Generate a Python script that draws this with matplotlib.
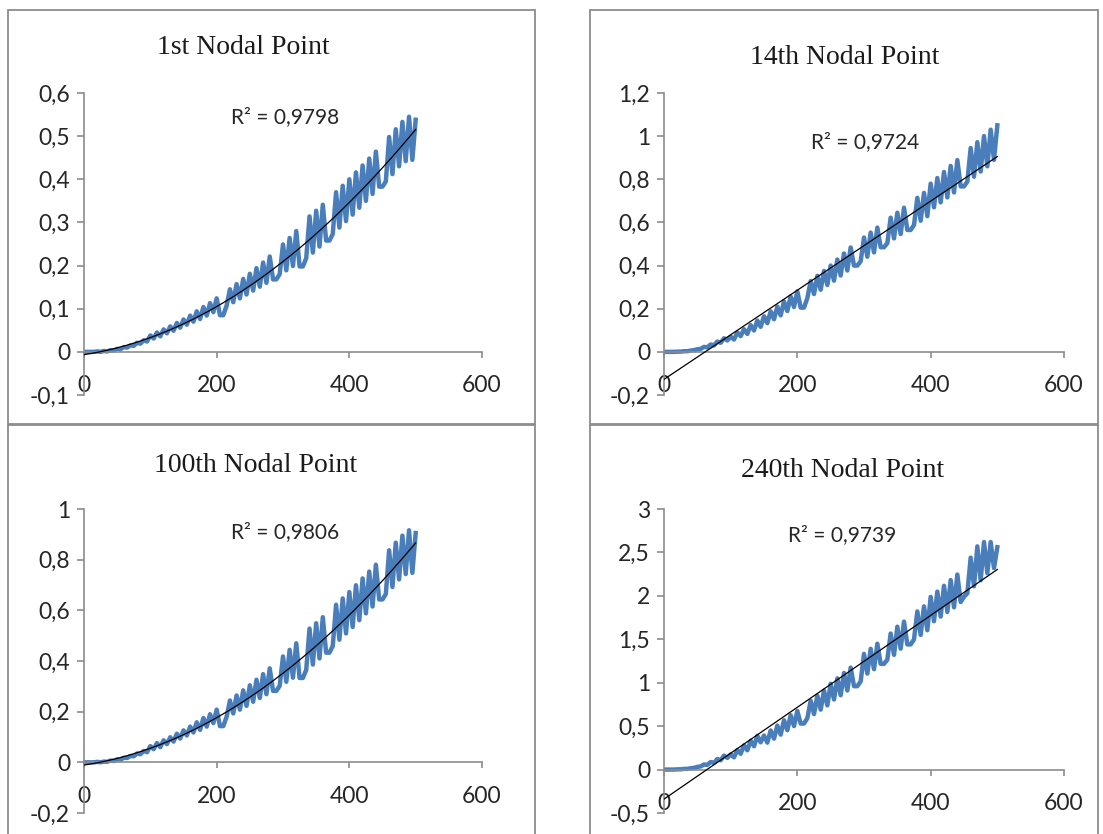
import numpy as np
import matplotlib
matplotlib.use("Agg")
import matplotlib.pyplot as plt
from matplotlib.patches import Rectangle
from matplotlib.ticker import FuncFormatter, MultipleLocator

# time steps shared by all four nodal points
time = np.arange(0, 505, 5)

node_1 = [
    0.000, 0.000, 0.000, 0.000, 0.001, 0.000, 0.002, 0.001, 0.004, 0.003,
    0.007, 0.006, 0.011, 0.010, 0.015, 0.014, 0.021, 0.019, 0.027, 0.024,
    0.038, 0.031, 0.045, 0.036, 0.052, 0.043, 0.059, 0.049, 0.067, 0.056,
    0.075, 0.063, 0.084, 0.070, 0.094, 0.076, 0.104, 0.084, 0.113, 0.092,
    0.124, 0.085, 0.085, 0.107, 0.145, 0.115, 0.157, 0.124, 0.169, 0.133,
    0.181, 0.142, 0.194, 0.151, 0.207, 0.160, 0.221, 0.168, 0.168, 0.180,
    0.249, 0.189, 0.264, 0.199, 0.280, 0.198, 0.198, 0.217, 0.314, 0.230,
    0.327, 0.244, 0.341, 0.258, 0.258, 0.273, 0.370, 0.288, 0.385, 0.303,
    0.400, 0.318, 0.416, 0.334, 0.432, 0.350, 0.448, 0.366, 0.464, 0.383,
    0.383, 0.395, 0.498, 0.412, 0.516, 0.430, 0.533, 0.442, 0.545, 0.445,
    0.538,
]

node_14 = [
    0.000, 0.000, 0.000, 0.000, 0.001, 0.001, 0.003, 0.003, 0.006, 0.008,
    0.012, 0.014, 0.023, 0.021, 0.034, 0.030, 0.048, 0.042, 0.063, 0.053,
    0.070, 0.057, 0.090, 0.073, 0.105, 0.083, 0.124, 0.099, 0.145, 0.116,
    0.165, 0.133, 0.188, 0.151, 0.210, 0.169, 0.234, 0.189, 0.257, 0.208,
    0.280, 0.205, 0.205, 0.249, 0.328, 0.268, 0.352, 0.288, 0.375, 0.310,
    0.400, 0.330, 0.428, 0.354, 0.456, 0.377, 0.484, 0.400, 0.400, 0.420,
    0.530, 0.441, 0.553, 0.461, 0.576, 0.485, 0.485, 0.504, 0.622, 0.526,
    0.645, 0.546, 0.668, 0.565, 0.565, 0.588, 0.714, 0.608, 0.737, 0.629,
    0.780, 0.670, 0.806, 0.693, 0.834, 0.716, 0.862, 0.739, 0.889, 0.767,
    0.767, 0.789, 0.945, 0.812, 0.972, 0.836, 1.000, 0.860, 1.030, 0.890,
    1.050,
]

node_100 = [
    0.000, 0.000, 0.000, 0.000, 0.002, 0.000, 0.003, 0.002, 0.007, 0.005,
    0.012, 0.010, 0.018, 0.017, 0.025, 0.024, 0.035, 0.032, 0.045, 0.040,
    0.064, 0.052, 0.076, 0.060, 0.087, 0.072, 0.099, 0.082, 0.113, 0.094,
    0.126, 0.106, 0.141, 0.118, 0.158, 0.128, 0.175, 0.141, 0.190, 0.155,
    0.208, 0.143, 0.143, 0.180, 0.244, 0.193, 0.264, 0.208, 0.284, 0.223,
    0.304, 0.239, 0.326, 0.254, 0.348, 0.269, 0.371, 0.282, 0.282, 0.302,
    0.418, 0.318, 0.444, 0.334, 0.470, 0.333, 0.333, 0.365, 0.528, 0.386,
    0.549, 0.410, 0.573, 0.433, 0.433, 0.459, 0.622, 0.484, 0.647, 0.509,
    0.672, 0.534, 0.699, 0.561, 0.726, 0.588, 0.753, 0.615, 0.780, 0.643,
    0.643, 0.664, 0.837, 0.692, 0.867, 0.722, 0.895, 0.743, 0.916, 0.748,
    0.905,
]

node_240 = [
    0.000, 0.000, 0.000, 0.000, 0.003, 0.003, 0.008, 0.008, 0.015, 0.020,
    0.031, 0.036, 0.059, 0.054, 0.087, 0.077, 0.122, 0.107, 0.161, 0.135,
    0.174, 0.141, 0.225, 0.182, 0.279, 0.222, 0.332, 0.268, 0.388, 0.314,
    0.392, 0.310, 0.450, 0.356, 0.507, 0.402, 0.568, 0.453, 0.626, 0.501,
    0.675, 0.530, 0.530, 0.591, 0.792, 0.639, 0.851, 0.690, 0.910, 0.739,
    0.988, 0.807, 1.050, 0.856, 1.112, 0.910, 1.174, 0.960, 0.960, 1.015,
    1.332, 1.105, 1.390, 1.156, 1.449, 1.217, 1.217, 1.265, 1.566, 1.321,
    1.645, 1.392, 1.703, 1.441, 1.441, 1.499, 1.821, 1.550, 1.879, 1.604,
    1.988, 1.708, 2.049, 1.761, 2.116, 1.815, 2.182, 1.868, 2.246, 1.929,
    1.990, 2.030, 2.440, 2.110, 2.570, 2.180, 2.620, 2.260, 2.620, 2.320,
    2.560,
]

titles = ["1st Nodal Point", "14th Nodal Point", "100th Nodal Point", "240th Nodal Point"]
r2_labels = ["R\u00b2 = 0,9798", "R\u00b2 = 0,9724", "R\u00b2 = 0,9806", "R\u00b2 = 0,9739"]
fit_orders = [2, 1, 2, 1]
y_ranges = [(-0.1, 0.6), (-0.2, 1.2), (-0.2, 1.0), (-0.5, 3.0)]
y_steps = [0.1, 0.2, 0.2, 0.5]
series = [node_1, node_14, node_100, node_240]

W, H = 1103, 834
fig = plt.figure(figsize=(W / 100, H / 100), dpi=100)

# pixel layout (left, top, right, bottom) of each panel's axes and frame
axes_px = [(84, 93, 482, 395), (664, 93, 1064, 395),
           (84, 509, 482, 813), (664, 509, 1064, 813)]
frames_px = [(8, 10, 535, 424), (590, 10, 1098, 424),
             (8, 425, 535, 850), (590, 425, 1098, 850)]
title_px = [(243, 47), (845, 57), (256, 465), (843, 470)]
r2_px = [(285, 117), (865, 142), (285, 532), (842, 535)]

comma_fmt = FuncFormatter(lambda v, _: f"{round(v, 6):g}".replace(".", ","))

for i in range(4):
    x0, y0, x1, y1 = frames_px[i]
    fig.patches.append(Rectangle((x0 / W, 1 - y1 / H), (x1 - x0) / W, (y1 - y0) / H,
                                 transform=fig.transFigure, fill=False,
                                 edgecolor="#8c8c8c", lw=1.3, zorder=0))

    l, t, r, b = axes_px[i]
    ax = fig.add_axes([l / W, 1 - b / H, (r - l) / W, (b - t) / H])
    y = np.array(series[i])
    ax.plot(time, y, color="#4a7ebb", lw=3.2, zorder=2)

    # Excel-style trendline fitted to the series
    coef = np.polyfit(time, y, fit_orders[i])
    xs = np.linspace(time[0], time[-1], 200)
    ax.plot(xs, np.polyval(coef, xs), color="black", lw=0.9, zorder=3)

    ax.set_xlim(0, 600)
    ax.set_ylim(*y_ranges[i])
    ax.xaxis.set_major_locator(MultipleLocator(200))
    ax.yaxis.set_major_locator(MultipleLocator(y_steps[i]))
    ax.yaxis.set_major_formatter(comma_fmt)
    ax.xaxis.set_major_formatter(comma_fmt)

    for s in ("top", "right"):
        ax.spines[s].set_visible(False)
    ax.spines["left"].set_position(("data", 0))
    ax.spines["bottom"].set_position(("data", 0))
    for s in ("left", "bottom"):
        ax.spines[s].set_color("#8c8c8c")
        ax.spines[s].set_linewidth(1.2)
    ax.patch.set_visible(False)

    ax.tick_params(axis="y", direction="out", length=5, width=1.2, color="#8c8c8c",
                   pad=5, labelsize=16.5, labelcolor="#262626")
    ax.tick_params(axis="x", direction="out", length=4, width=1.2, color="#8c8c8c",
                   pad=13, labelsize=16.5, labelcolor="#262626")
    for lab in ax.get_xticklabels() + ax.get_yticklabels():
        lab.set_fontfamily("Lato")

    tx, ty = title_px[i]
    fig.text(tx / W, 1 - ty / H, titles[i], ha="center", va="center",
             fontsize=20, family="Liberation Serif", color="#1a1a1a")
    rx, ry = r2_px[i]
    fig.text(rx / W, 1 - ry / H, r2_labels[i], ha="center", va="center",
             fontsize=15, family="Lato", color="#262626")

fig.savefig("out.png", dpi=100)
